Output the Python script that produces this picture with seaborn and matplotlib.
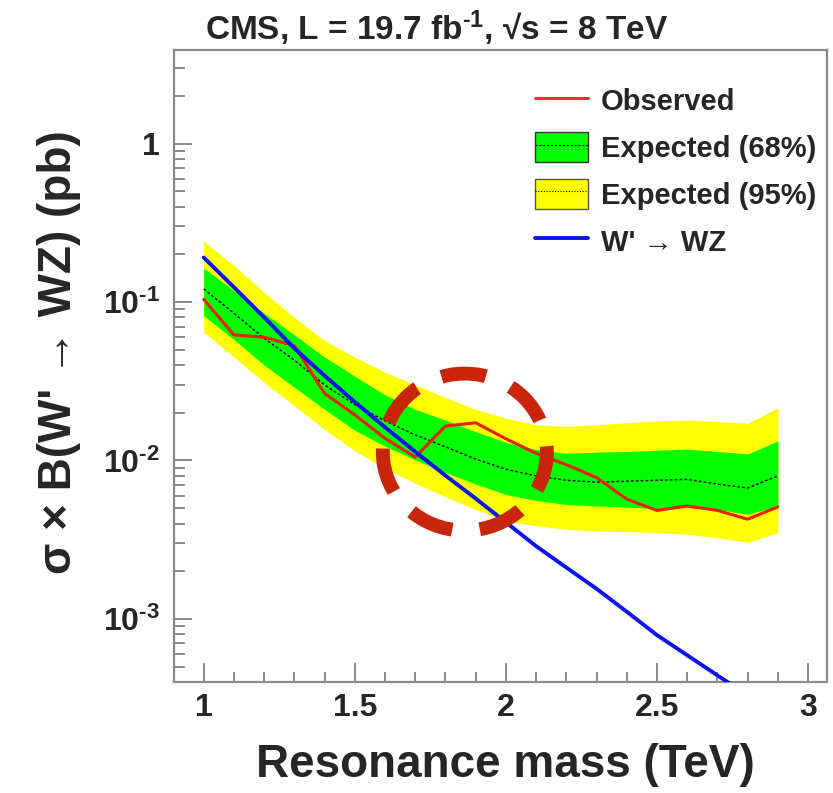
import matplotlib
matplotlib.use("Agg")
import matplotlib.pyplot as plt
import seaborn as sns
import pandas as pd
from matplotlib.patches import Patch, Ellipse
from matplotlib.lines import Line2D
from matplotlib.ticker import MultipleLocator, LogLocator, FixedFormatter, FixedLocator

mass = [1.0, 1.1, 1.2, 1.3, 1.4, 1.5, 1.6, 1.7, 1.8, 1.9,
        2.0, 2.1, 2.2, 2.3, 2.4, 2.5, 2.6, 2.7, 2.8, 2.9]
observed = [0.104, 0.062, 0.060, 0.053, 0.0265, 0.0194, 0.0138, 0.0105, 0.0165, 0.0173,
            0.0137, 0.0111, 0.0094, 0.0078, 0.0057, 0.00484, 0.00516, 0.00484, 0.00426, 0.0051]
expected = [0.121, 0.085, 0.059, 0.043, 0.030, 0.0225, 0.0178, 0.0145, 0.0122, 0.0102,
            0.0088, 0.0080, 0.0075, 0.0073, 0.0074, 0.0075, 0.0076, 0.0071, 0.0067, 0.0080]
exp68_hi = [0.164, 0.118, 0.085, 0.062, 0.045, 0.034, 0.026, 0.021, 0.018, 0.0152,
            0.0130, 0.0117, 0.0111, 0.0113, 0.0114, 0.0116, 0.0118, 0.0114, 0.0110, 0.0133]
exp68_lo = [0.082, 0.058, 0.040, 0.029, 0.021, 0.0155, 0.0123, 0.0101, 0.0084, 0.0071,
            0.0061, 0.0056, 0.00528, 0.00516, 0.00508, 0.00498, 0.00516, 0.00491, 0.00458, 0.00516]
exp95_hi = [0.242, 0.170, 0.115, 0.080, 0.057, 0.045, 0.036, 0.030, 0.025, 0.021,
            0.0185, 0.0168, 0.0164, 0.0168, 0.0173, 0.0178, 0.0180, 0.0176, 0.0172, 0.0215]
exp95_lo = [0.0645, 0.045, 0.031, 0.0222, 0.0157, 0.0115, 0.0089, 0.0072, 0.0059, 0.0049,
            0.00415, 0.00387, 0.00368, 0.00359, 0.00356, 0.00351, 0.00342, 0.00326, 0.00304, 0.00351]
theory = [0.191, 0.124, 0.080, 0.051, 0.0343, 0.0234, 0.0162, 0.01135, 0.00804, 0.00575,
          0.00407, 0.00288, 0.00211, 0.00155, 0.00111, 0.00079, 0.00059, 0.00044, 0.00033, 0.00025]

legend_labels = ["Observed", "Expected (68%)", "Expected (95%)", "W' \u2192 WZ"]
ytick_vals = [1e-3, 1e-2, 1e-1, 1]
ytick_labels = [r"$10^{\text{-3}}$", r"$10^{\text{-2}}$", r"$10^{\text{-1}}$", "1"]
title = r"CMS, L = 19.7 fb$^{\text{-1}}$, " + "\u221as = 8 TeV"

# point highlighted by the dashed circle (TeV, pb)
circle_at = (1.864, 0.0113)

sns.set_style("ticks")
plt.rcParams["font.family"] = ["Liberation Sans", "DejaVu Sans"]
plt.rcParams["font.weight"] = "bold"
plt.rcParams["mathtext.fontset"] = "custom"
plt.rcParams["mathtext.rm"] = "Liberation Sans:bold"
plt.rcParams["mathtext.it"] = "Liberation Sans:bold"
plt.rcParams["mathtext.bf"] = "Liberation Sans:bold"

df = pd.DataFrame({"mass": mass, "observed": observed, "expected": expected, "theory": theory})

fig = plt.figure(figsize=(8.33, 7.93), dpi=100)
ax = fig.add_axes([0.209, 0.140, 0.784, 0.797])

ax.fill_between(mass, exp95_lo, exp95_hi, color="#ffff00", lw=0, zorder=1)
ax.fill_between(mass, exp68_lo, exp68_hi, color="#00ff00", lw=0, zorder=2)
sns.lineplot(data=df, x="mass", y="expected", ax=ax, color="black", lw=1,
             linestyle=(0, (2, 1.5)), zorder=3)
sns.lineplot(data=df, x="mass", y="observed", ax=ax, color="#e8200c", lw=2.2, zorder=4)
sns.lineplot(data=df, x="mass", y="theory", ax=ax, color="#0a14f0", lw=2.8, zorder=5)

ax.set_yscale("log")
ax.set_xlim(0.902, 3.063)
ax.set_ylim(4.0e-4, 3.9)

# ROOT-like frame and ticks
frame_col = "#8a8a8a"
for s in ax.spines.values():
    s.set_color(frame_col)
    s.set_linewidth(1.6)
ax.xaxis.set_major_locator(MultipleLocator(0.5))
ax.xaxis.set_minor_locator(MultipleLocator(0.1))
ax.xaxis.set_major_formatter(plt.FuncFormatter(lambda v, p: f"{v:g}"))
ax.yaxis.set_major_locator(FixedLocator(ytick_vals))
ax.yaxis.set_major_formatter(FixedFormatter(ytick_labels))
ax.yaxis.set_minor_locator(LogLocator(base=10, subs=range(2, 10)))
ax.tick_params(axis="both", which="both", direction="in", color=frame_col, width=1.4,
               top=False, right=False)
ax.tick_params(axis="x", which="major", length=14, pad=8, labelsize=23)
ax.tick_params(axis="x", which="minor", length=7)
ax.tick_params(axis="y", which="major", length=13, pad=10, labelsize=23)
ax.tick_params(axis="y", which="minor", length=8, labelleft=False)

ax.set_xlabel("Resonance mass (TeV)", fontsize=33, fontweight="bold", va="center")
ax.xaxis.set_label_coords(0.507, -0.131)
ax.set_ylabel("\u03c3 \u00d7 B(W' \u2192 WZ) (pb)", fontsize=33, fontweight="bold",
              va="center", ha="center")
ax.yaxis.set_label_coords(-0.176, 0.522)

fig.text(205 / 833, 1 - 28 / 793, title,
         fontsize=24, fontweight="bold", ha="left", va="center")

# legend
h_obs = Line2D([], [], color="#ff2a2a", lw=2.2)
h68 = (Patch(facecolor="#00ff00", edgecolor="#333333", lw=1),
       Line2D([], [], color="black", lw=0.8, linestyle=(0, (2, 1.5))))
h95 = (Patch(facecolor="#ffff00", edgecolor="#555555", lw=1),
       Line2D([], [], color="black", lw=0.8, linestyle=(0, (1, 1.5))))
h_th = Line2D([], [], color="#0a14f0", lw=2.8)
ax.legend([h_obs, h68, h95, h_th], legend_labels, loc="upper left",
          bbox_to_anchor=(0.553, 0.944), frameon=False,
          prop={"family": ["Liberation Sans", "DejaVu Sans"], "weight": "bold", "size": 21},
          handlelength=1.8, handleheight=1.2, handletextpad=0.45, labelspacing=0.55,
          borderpad=0, borderaxespad=0)

# dashed red circle around the excess
cx, cy = ax.transAxes.inverted().transform(ax.transData.transform(circle_at))
ring = Ellipse((cx, cy), 164 / 653, 157 / 632, transform=ax.transAxes, fill=False,
               edgecolor="#c8250b", lw=10, linestyle=(4.1, (3.24, 1.94)),
               zorder=10, clip_on=False)
ax.add_patch(ring)

fig.savefig("out.png", dpi=100)
